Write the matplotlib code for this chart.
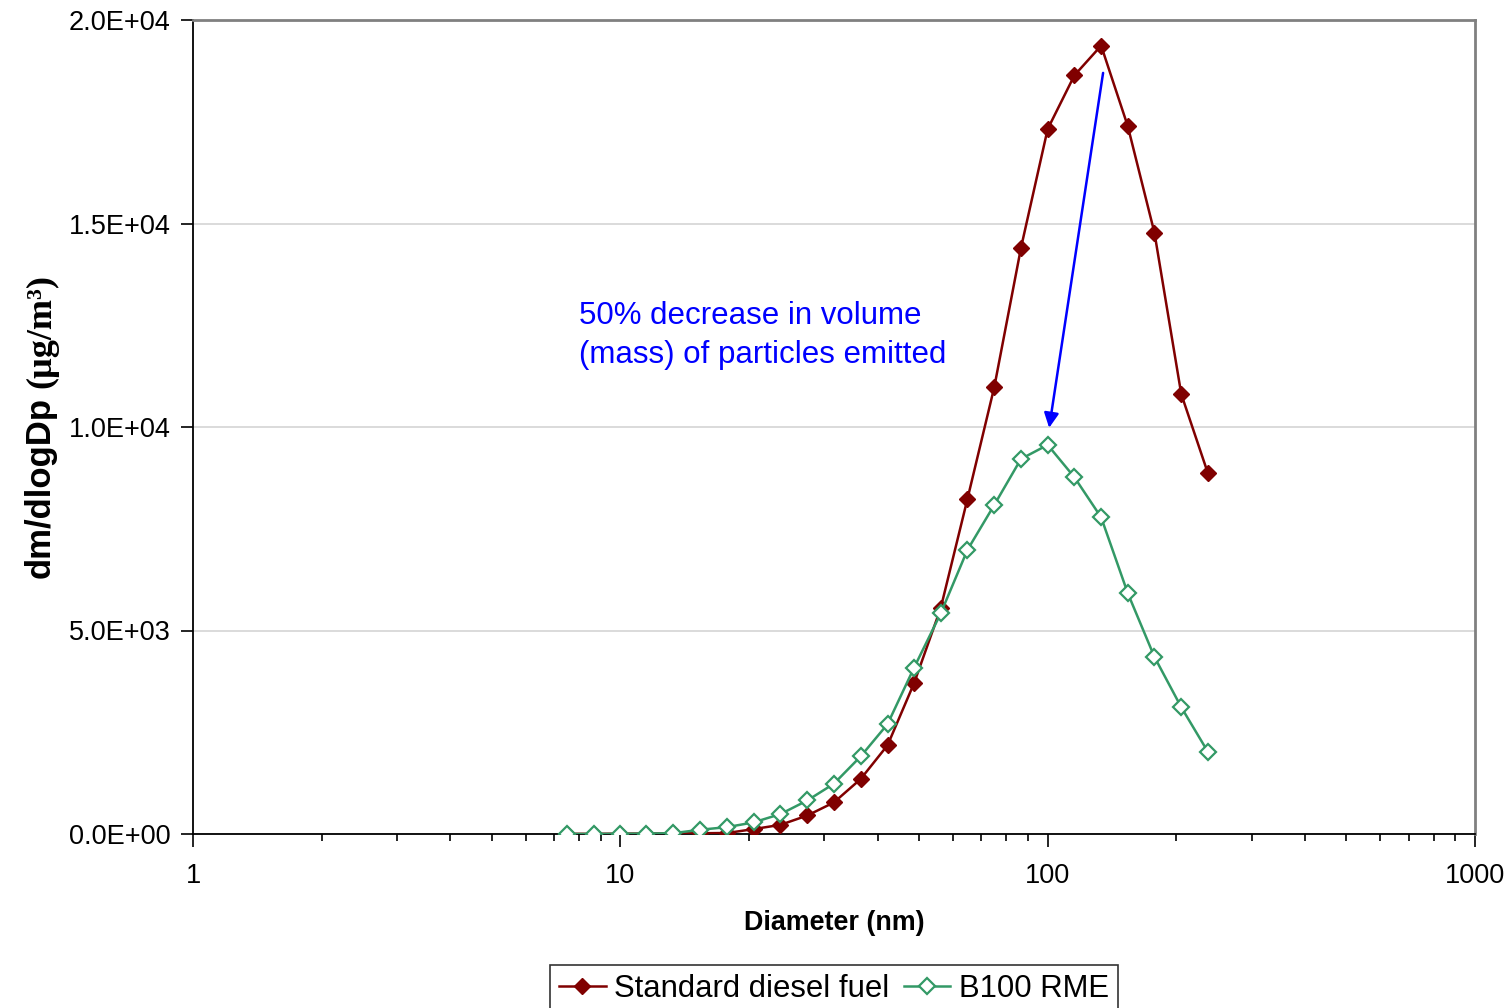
import matplotlib
matplotlib.use("Agg")
import matplotlib.pyplot as plt
from matplotlib.ticker import FixedLocator, FuncFormatter, LogLocator, NullFormatter

plt.rcParams['font.family'] = ['Liberation Sans', 'DejaVu Sans']

# particle size bins (nm), 16 channels per decade
diameter = [7.50, 8.66, 10.0, 11.5, 13.3, 15.4, 17.8, 20.5, 23.7, 27.4, 31.6, 36.5,
            42.2, 48.7, 56.2, 64.9, 75.0, 86.6, 100.0, 115.5, 133.4, 154.0, 177.8, 205.4, 237.1]

# dm/dlogDp (ug/m3)
diesel = [5, 5, 8, 12, 15, 18, 25, 120, 225, 455, 775, 1350,
          2180, 3710, 5550, 8230, 10980, 14400, 17320, 18640, 19370, 17390, 14770, 10810, 8865]
b100 = [0, 0, 5, 10, 20, 105, 170, 285, 490, 825, 1235, 1905,
        2700, 4090, 5420, 6980, 8085, 9215, 9560, 8765, 7780, 5915, 4350, 3115, 2020]

series_names = ["Standard diesel fuel", "B100 RME"]
note = "50% decrease in volume\n(mass) of particles emitted"

fig = plt.figure(figsize=(15.1, 10.08), dpi=100)
ax = fig.add_axes([193 / 1510, 1 - 834 / 1008, (1475 - 193) / 1510, (834 - 20) / 1008])

ax.plot(diameter, diesel, color='#800000', lw=1.8, marker='D', ms=8.6,
        mfc='#800000', mec='#800000', label=series_names[0], zorder=3)
ax.plot(diameter, b100, color='#339966', lw=1.8, marker='D', ms=8.0,
        mfc='white', mec='#339966', mew=1.6, label=series_names[1], zorder=4)

ax.set_xscale('log')
ax.set_xlim(1, 1000)
ax.set_ylim(0, 20000)

ax.xaxis.set_major_locator(FixedLocator([1, 10, 100, 1000]))
ax.xaxis.set_major_formatter(FuncFormatter(lambda v, p: f"{v:g}"))
ax.xaxis.set_minor_locator(LogLocator(base=10, subs=range(2, 10)))
ax.xaxis.set_minor_formatter(NullFormatter())
ax.set_yticks([0, 5000, 10000, 15000, 20000])
ax.yaxis.set_major_formatter(FuncFormatter(lambda v, p: f"{v:.1E}"))

ax.tick_params(axis='both', which='major', direction='out', length=9, width=1.2,
               labelsize=19.5, color='black')
ax.tick_params(axis='x', which='major', pad=12)
ax.tick_params(axis='y', which='major', pad=7)
ax.tick_params(axis='x', which='minor', direction='out', length=5, width=1.2)

ax.grid(axis='y', color='#d4d4d4', lw=1.2)
ax.set_axisbelow(True)
for side in ['top', 'right']:
    ax.spines[side].set_color('#808080')
    ax.spines[side].set_linewidth(2)
for side in ['left', 'bottom']:
    ax.spines[side].set_color('black')
    ax.spines[side].set_linewidth(1.3)

ax.set_xlabel("Diameter (nm)", fontsize=19.4, fontweight='bold', labelpad=15)

# y label: bold sans quantity followed by serif units
t1 = fig.text(50 / 1510, 1 - 578 / 1008, "dm/dlogDp", rotation=90, rotation_mode='anchor',
              ha='left', va='baseline', fontsize=25, fontweight='bold')
fig.canvas.draw()
bb = t1.get_window_extent()
y_next = (bb.y1 + 9) / fig.bbox.height
fig.text(50 / 1510, y_next, "(µg/m³)", rotation=90, rotation_mode='anchor',
         ha='left', va='baseline', fontsize=26, fontweight='bold',
         family=['Liberation Serif', 'DejaVu Serif'])

ax.annotate("", xy=(100.8, 9980), xytext=(134.8, 18700),
            arrowprops=dict(arrowstyle='-|>', color='#0000ff', lw=1.8,
                            mutation_scale=22, shrinkA=0, shrinkB=0))
ax.text(8.0, 12250, note, color='#0000ff', fontsize=22.5, ha='left', va='center',
        linespacing=1.4)

leg = fig.legend(loc='upper center', bbox_to_anchor=(834 / 1510, 1 - 965 / 1008), ncol=2,
                 fontsize=22.4, frameon=True, fancybox=False, edgecolor='black',
                 handlelength=1.5, handletextpad=0.28, columnspacing=0.45, borderpad=0.3,
                 borderaxespad=0, markerscale=1.0)
leg.get_frame().set_linewidth(1.2)

fig.savefig("out.png", dpi=100)
